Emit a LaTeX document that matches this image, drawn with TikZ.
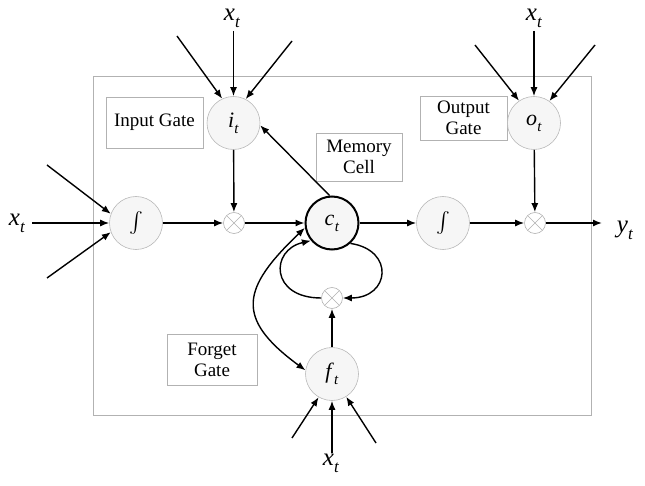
\documentclass[tikz,border=0pt]{standalone}
\usepackage{fontspec}
\setmainfont{Liberation Serif}
\usepackage{exscale}
\usetikzlibrary{arrows.meta}
\newcommand\vsub[2]{\textit{#1}\kern0.3pt\raisebox{-0.28em}{\scalebox{0.68}{\textit{#2}}}}
\begin{document}
\begin{tikzpicture}[x=1pt,y=-1pt,
  arr/.style={line width=1.4pt,-{Latex[length=9pt,width=7pt]}},
  darr/.style={line width=1.4pt,{Latex[length=9pt,width=7pt]}-{Latex[length=9pt,width=7pt]}},
  unit/.style={circle,draw=gray!55,line width=0.6pt,fill=gray!7,minimum size=53pt,inner sep=0pt,font=\fontsize{22}{24}\selectfont},
  cell/.style={unit,draw=black,line width=2pt},
  mult/.style={circle,draw=gray!60,line width=0.6pt,fill=white,minimum size=21pt,inner sep=0pt,
    path picture={\draw[gray!60,line width=0.6pt] (path picture bounding box.south west) -- (path picture bounding box.north east)
      (path picture bounding box.north west) -- (path picture bounding box.south east);}},
  lbl/.style={draw=gray!60,line width=0.6pt,align=center,inner sep=0pt,font=\fontsize{19}{21}\selectfont},
  var/.style={inner sep=1pt,font=\fontsize{25}{27}\selectfont}
]
\path[use as bounding box] (0,0) rectangle (645,486);
\node[draw=gray!60,line width=0.7pt,minimum width=498pt,minimum height=339pt,inner sep=0pt] (frame) at (342,246) {};

% label boxes
\node[lbl,minimum width=97pt,minimum height=51pt] (lin) at (154.5,122.5) {Input Gate};
\node[lbl,minimum width=86pt,minimum height=48pt] (lmem) at (359,157) {Memory\\Cell};
\node[lbl,minimum width=87pt,minimum height=44pt] (lout) at (463.5,118) {Output\\Gate};
\node[lbl,minimum width=90pt,minimum height=51pt] (lfor) at (212,359.5) {Forget\\Gate};

% units
\node[unit] (i) at (233.5,123) {\vsub{i}{t}};
\node[unit] (o) at (534,123) {\vsub{o}{t}};
\node[unit] (s1) at (136,223) {$\int$};
\node[cell] (c) at (332,223) {\vsub{c}{t}};
\node[unit] (s2) at (443,223) {$\int$};
\node[unit] (f) at (332,374) {\vsub{f}{t}};
\node[mult] (m1) at (234,223) {};
\node[mult] (m2) at (535,223) {};
\node[mult] (m3) at (332,298) {};

% variables
\node[var] (xi) at (232,18) {\vsub{x}{t}};
\node[var] (xo) at (534,18) {\vsub{x}{t}};
\node[var] (xl) at (17,223) {\vsub{x}{t}};
\node[var] (xb) at (331,463) {\vsub{x}{t}};
\node[var] (yt) at (625,230) {\vsub{y}{t}};

\coordinate (ia) at (177,36);
\coordinate (ib) at (292,41);
\coordinate (oa) at (475,45);
\coordinate (ob) at (595,45);
\coordinate (la) at (47,165);
\coordinate (lb) at (47,278);
\coordinate (fa) at (292,438);
\coordinate (fb) at (376,443);
\coordinate (xic) at (233.5,31);
\coordinate (xoc) at (534,31);
\coordinate (xlc) at (32,223);
\coordinate (xbc) at (332,453);
\coordinate (ye) at (602,223);

% inputs
\draw[arr] (xic) -- (i);
\draw[arr] (ia) -- (i.115);
\draw[arr] (ib) -- (i.63);
\draw[arr] (xoc) -- (o);
\draw[arr] (oa) -- (o.124);
\draw[arr] (ob) -- (o.55);
\draw[arr] (xlc) -- (s1);
\draw[arr] (la) -- (s1.160);
\draw[arr] (lb) -- (s1.200);
\draw[arr] (xbc) -- (f);
\draw[arr] (fa) -- (f.240);
\draw[arr] (fb) -- (f.302);

% main flow
\draw[arr] (s1) -- (m1);
\draw[arr] (i) -- (m1);
\draw[arr] (m1) -- (c);
\draw[arr] (c) -- (s2);
\draw[arr] (s2) -- (m2);
\draw[arr] (o) -- (m2);
\draw[arr] (m2) -- (ye);
\draw[arr] (c.95) -- (i.-5);
\draw[arr] (f) -- (m3);
\draw[arr] (c.-48) .. controls (395,250) and (390,298) .. (m3.east);
\draw[arr] (m3.west) .. controls (270,298) and (270,250) .. (c.220);
\draw[darr] (c.190) .. controls (242,288) and (234,318) .. (f.172);
\end{tikzpicture}
\end{document}
